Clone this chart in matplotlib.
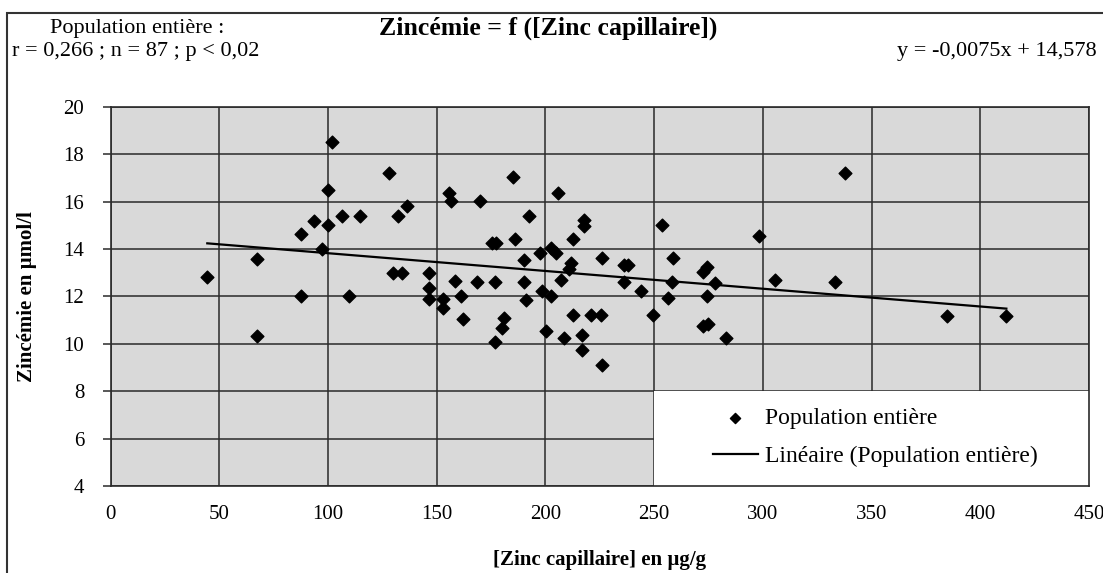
import matplotlib.pyplot as plt
from matplotlib.patches import Rectangle
import numpy as np

# [Zinc capillaire] (ug/g) and zincemie (umol/l)
zinc_cap = [44.5, 67.2, 67.2, 87.4, 87.4, 93.6, 97.1, 100.1, 100.1, 102.0,
            106.3, 109.7, 114.7, 128.2, 132.3, 136.5, 129.7, 134.2, 146.6, 146.6,
            146.6, 152.7, 152.7, 155.8, 156.6, 158.4, 161.1, 161.9, 169.9, 168.4,
            175.3, 177.1, 176.8, 180.9, 180.1, 176.8, 184.9, 186.0, 190.1, 190.1,
            191.0, 192.6, 197.5, 198.5, 200.2, 202.5, 205.1, 202.8, 205.9, 207.0,
            208.5, 211.6, 210.9, 212.8, 212.8, 217.7, 217.7, 216.9, 216.9, 220.8,
            225.8, 226.1, 226.1, 236.1, 238.1, 236.1, 243.8, 249.6, 253.4, 258.5,
            258.0, 256.5, 272.6, 274.1, 274.1, 272.6, 274.9, 277.9, 283.0, 298.3,
            305.5, 333.1, 338.0, 384.5, 412.0]
zincemie = [12.84, 13.59, 10.35, 14.64, 12.00, 15.20, 14.00, 16.50, 15.02, 18.51,
            15.41, 12.00, 15.41, 17.23, 15.41, 15.82, 13.00, 13.00, 13.00, 12.35,
            11.90, 11.90, 11.53, 16.38, 16.05, 12.66, 12.00, 11.07, 16.05, 12.63,
            14.25, 14.25, 12.63, 11.08, 10.66, 10.06, 17.06, 14.42, 13.54, 12.63,
            11.86, 15.41, 13.85, 12.25, 10.55, 14.04, 13.85, 12.03, 16.36, 12.70,
            10.24, 13.40, 13.16, 14.42, 11.22, 15.23, 14.99, 10.38, 9.75, 11.22,
            11.22, 13.62, 9.11, 13.33, 13.33, 12.60, 12.25, 11.22, 15.02, 13.62,
            12.63, 11.93, 13.02, 13.26, 12.00, 10.76, 10.84, 12.56, 10.24, 14.56,
            12.70, 12.63, 17.20, 11.19, 11.19]

slope = -0.0075
intercept = 14.578

x_ticks = [0, 50, 100, 150, 200, 250, 300, 350, 400, 450]
y_ticks = [4, 6, 8, 10, 12, 14, 16, 18, 20]

plt.rcParams['font.family'] = ['Liberation Serif', 'DejaVu Serif']

fig = plt.figure(figsize=(11.03, 5.73), dpi=100)
ax = fig.add_axes([0.1002, 0.1518, 0.8871, 0.6615])
ax.set_facecolor('#d9d9d9')
ax.set_axisbelow(True)

ax.scatter(zinc_cap, zincemie, marker='D', s=42, color='black', zorder=3,
           label='Population entière')
xl = np.array([min(zinc_cap), max(zinc_cap)])
ax.plot(xl, slope * xl + intercept, color='black', lw=1.6, zorder=3,
        label='Linéaire (Population entière)')

ax.set_xlim(0, 450)
ax.set_ylim(4, 20)
ax.set_xticks(x_ticks)
ax.set_yticks(y_ticks)
ax.tick_params(axis='x', length=0, pad=14, labelsize=15)
ax.tick_params(axis='y', length=6, width=1.1, direction='out', pad=13, labelsize=15,
               color='#2a2a2a')
ax.grid(True, color='#2a2a2a', lw=1.1)
for s in ax.spines.values():
    s.set_color('#2a2a2a')
    s.set_linewidth(1.2)

# white box behind the legend
ax.add_patch(Rectangle((250, 4), 200, 4, facecolor='white', edgecolor='none', zorder=1))
leg = ax.legend(loc='center left', bbox_to_anchor=(277, 6.05), bbox_transform=ax.transData,
                frameon=False, fontsize=17, handlelength=1.9, handletextpad=0.3,
                labelspacing=0.7, borderpad=0, borderaxespad=0, markerscale=0.8)

ax.set_xlabel('[Zinc capillaire] en µg/g', fontsize=15, fontweight='bold')
ax.xaxis.set_label_coords(0.5, -0.168)
ax.set_ylabel('Zincémie en µmol/l', fontsize=15, fontweight='bold')
ax.yaxis.set_label_coords(-0.075, 0.5)

fig.text(0.124, 0.950, 'Population entière :', fontsize=16, ha='center', va='center')
fig.text(0.011, 0.910, 'r = 0,266 ; n = 87 ; p < 0,02', fontsize=16, ha='left', va='center')
fig.text(0.497, 0.950, 'Zincémie = f ([Zinc capillaire])', fontsize=18.5,
         fontweight='bold', ha='center', va='center')
fig.text(0.9946, 0.910, 'y = -0,0075x + 14,578', fontsize=16, ha='right', va='center')

# outer chart border (cut at right/bottom)
fig.add_artist(Rectangle((0.0063, -0.1), 1.2, 1.1 - 0.022, transform=fig.transFigure,
                         fill=False, edgecolor='#333333', lw=1.5))

fig.savefig('out.png', dpi=100)
